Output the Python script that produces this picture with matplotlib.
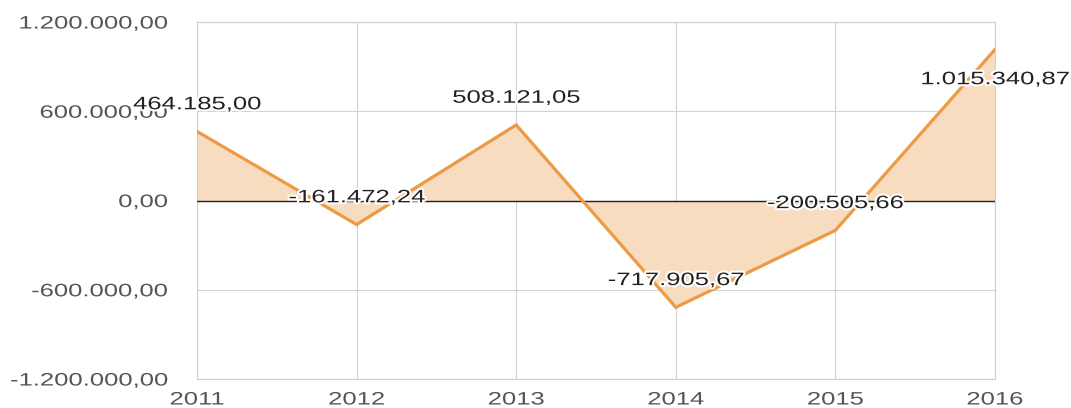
import matplotlib
matplotlib.use("Agg")
import matplotlib.pyplot as plt
import matplotlib.patheffects as pe
from matplotlib.transforms import Affine2D

years = [2011, 2012, 2013, 2014, 2015, 2016]
values = [464185.00, -161472.24, 508121.05, -717905.67, -200505.66, 1015340.87]
y_ticks = [-1200000, -600000, 0, 600000, 1200000]

LINE_COLOR = "#EE9A45"
FILL_COLOR = "#F8DCC0"


def fmt(v):
    s = f"{v:,.2f}"
    return s.replace(",", "X").replace(".", ",").replace("X", ".")


class Wide(pe.AbstractPathEffect):
    """Draws text glyphs stretched horizontally, optionally with a halo."""

    def __init__(self, sx, anchor="center", halo=None):
        super().__init__()
        self.sx = sx
        self.anchor = anchor
        self.halo = halo

    def draw_path(self, renderer, gc, tpath, affine, rgbFace=None):
        ext = tpath.get_extents()
        if self.anchor == "center":
            cx = (ext.x0 + ext.x1) / 2
        elif self.anchor == "right":
            cx = ext.x1
        else:
            cx = ext.x0
        trans = Affine2D().translate(-cx, 0).scale(self.sx, 1).translate(cx, 0) + affine
        if self.halo:
            lw, col = self.halo
            gc0 = renderer.new_gc()
            gc0.copy_properties(gc)
            gc0.set_linewidth(lw)
            gc0.set_foreground(col)
            gc0.set_joinstyle("round")
            renderer.draw_path(gc0, tpath, trans, matplotlib.colors.to_rgba(col))
            gc0.restore()
        renderer.draw_path(gc, tpath, trans, rgbFace)


plt.rcParams["font.family"] = ["Liberation Sans", "DejaVu Sans"]

fig = plt.figure(figsize=(10.71, 4.08), dpi=100)
ax = fig.add_axes([0.184, 0.071, 0.745, 0.875])

ax.fill_between(years, values, 0, color=FILL_COLOR, lw=0, zorder=2)
ax.axhline(0, color="#222222", lw=1.0, zorder=3)
ax.plot(years, values, color=LINE_COLOR, lw=2.3, zorder=4, solid_joinstyle="miter")

ax.set_xlim(years[0], years[-1])
ax.set_ylim(y_ticks[0], y_ticks[-1])

ax.set_xticks(years)
ax.set_xticklabels([str(y) for y in years])
ax.set_yticks(y_ticks)
ax.set_yticklabels([fmt(v) for v in y_ticks])

ax.grid(True, color="#d2d2d2", lw=0.8, zorder=1)
ax.set_axisbelow(True)
for sp in ax.spines.values():
    sp.set_color("#cfcfcf")
    sp.set_linewidth(0.8)

ax.tick_params(axis="both", length=0, labelsize=13, labelcolor="#555555")
ax.tick_params(axis="y", pad=21)
ax.tick_params(axis="x", pad=9)

for lab in ax.get_yticklabels():
    lab.set_path_effects([Wide(1.42, "right")])
for lab in ax.get_xticklabels():
    lab.set_path_effects([Wide(1.42, "center")])

# Value labels sit above each point, or below it when there is no room at the top
for x, v in zip(years, values):
    dy = 16 if v < 0.75 * y_ticks[-1] else -25
    ax.annotate(fmt(v), (x, v), xytext=(0, dy), textcoords="offset points",
                ha="center", va="baseline", fontsize=13, color="#222222",
                annotation_clip=False, zorder=6,
                path_effects=[Wide(1.42, "center", halo=(3, "white"))])

fig.savefig("out.png", dpi=100)
